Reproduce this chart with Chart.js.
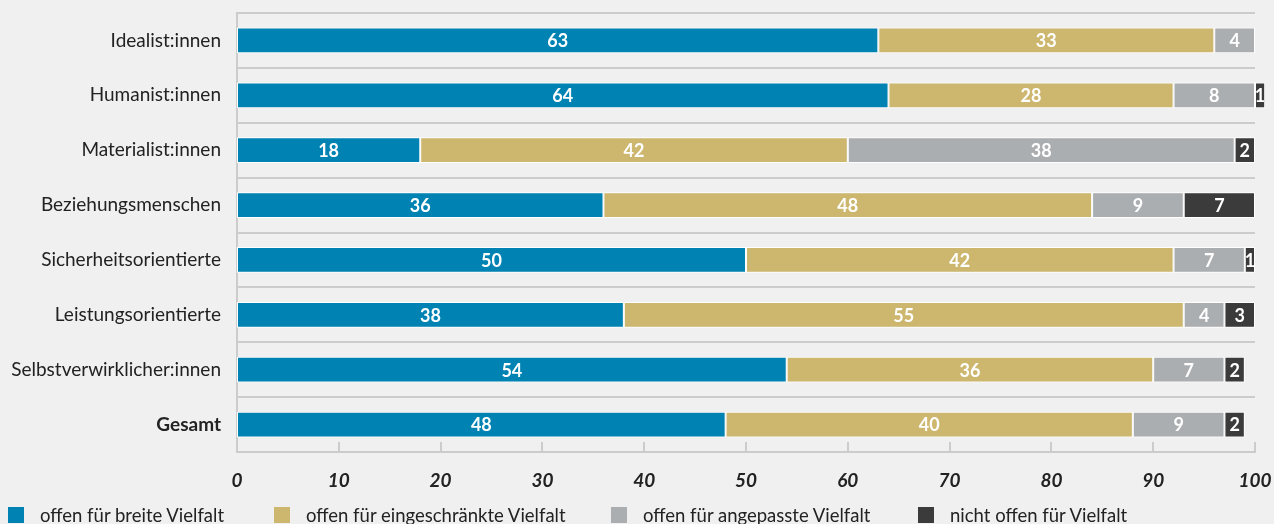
<!DOCTYPE html>
<html>
<head>
<meta charset="utf-8">
<script src="https://cdn.jsdelivr.net/npm/chart.js@4.4.1/dist/chart.umd.min.js"></script>
<style>
  html, body { margin: 0; padding: 0; background: #f0f0f0; }
  #wrap { position: relative; width: 1274px; height: 524px; overflow: hidden; font-family: Lato, sans-serif; }
  #chart { position: absolute; left: 0; top: 0; }
  .lg { position: absolute; top: 504px; display: flex; align-items: center; font-size: 18.5px; color: #222; white-space: nowrap; line-height: 22px; }
  .lg span.box { display: inline-block; width: 16px; height: 16px; margin-right: 16px; }
</style>
</head>
<body>
<div id="wrap">
  <canvas id="chart" width="1274" height="524"></canvas>
  <div id="legend"></div>
</div>
<script>
const categories = ["Idealist:innen", "Humanist:innen", "Materialist:innen", "Beziehungsmenschen",
  "Sicherheitsorientierte", "Leistungsorientierte", "Selbstverwirklicher:innen", "Gesamt"];
const seriesNames = ["offen für breite Vielfalt", "offen für eingeschränkte Vielfalt",
  "offen für angepasste Vielfalt", "nicht offen für Vielfalt"];
const breite       = [63, 64, 18, 36, 50, 38, 54, 48];
const eingeschraenkt = [33, 28, 42, 48, 42, 55, 36, 40];
const angepasst    = [4, 8, 38, 9, 7, 4, 7, 9];
const nichtOffen   = [0, 1, 2, 7, 1, 3, 2, 2];
const xTicks = [0, 10, 20, 30, 40, 50, 60, 70, 80, 90, 100];
const colors = ["#0083b3", "#cdb76e", "#abaeb0", "#3a3b3a"];

const seriesData = [breite, eingeschraenkt, angepasst, nichtOffen];

// HTML legend
const legendLefts = [8, 274, 611, 918];
const lg = document.getElementById('legend');
seriesNames.forEach((n, i) => {
  const d = document.createElement('div');
  d.className = 'lg';
  d.style.left = legendLefts[i] + 'px';
  d.innerHTML = '<span class="box" style="background:' + colors[i] + '"></span><span>' + n + '</span>';
  lg.appendChild(d);
});

const inwardTicks = {
  id: 'inwardTicks',
  beforeDatasetsDraw(chart) {
    const xs = chart.scales.x;
    const b = chart.chartArea.bottom;
    const ctx = chart.ctx;
    ctx.save();
    ctx.strokeStyle = '#cccccc';
    ctx.lineWidth = 2;
    ctx.beginPath();
    xs.ticks.forEach((t, i) => {
      const px = Math.round(xs.getPixelForTick(i));
      ctx.moveTo(px, b);
      ctx.lineTo(px, b - 10);
    });
    ctx.stroke();
    ctx.restore();
  }
};

const valueLabels = {
  id: 'valueLabels',
  afterDatasetsDraw(chart) {
    const ctx = chart.ctx;
    ctx.save();
    ctx.font = 'bold 18px Lato, sans-serif';
    ctx.fillStyle = '#ffffff';
    ctx.textAlign = 'center';
    ctx.textBaseline = 'middle';
    chart.data.datasets.forEach((ds, i) => {
      const meta = chart.getDatasetMeta(i);
      meta.data.forEach((bar, j) => {
        const v = ds.data[j];
        if (!v) return;
        const p = bar.getProps(['x', 'base', 'y'], true);
        ctx.fillText(String(v), (p.x + p.base) / 2, p.y + 1);
      });
    });
    ctx.restore();
  }
};

new Chart(document.getElementById('chart'), {
  type: 'bar',
  data: {
    labels: categories,
    datasets: seriesNames.map((n, i) => ({
      label: n,
      data: seriesData[i],
      backgroundColor: colors[i],
      borderColor: '#ffffff',
      borderWidth: 1,
      borderSkipped: false,
      categoryPercentage: 1,
      barPercentage: 0.47,
      clip: false
    }))
  },
  options: {
    indexAxis: 'y',
    responsive: false,
    animation: false,
    layout: { padding: { top: 13, right: 19, left: 0, bottom: 0 } },
    plugins: { legend: { display: false }, tooltip: { enabled: false } },
    scales: {
      x: {
        stacked: true,
        min: 0,
        max: 100,
        afterBuildTicks(scale) { scale.ticks = xTicks.map(v => ({ value: v })); },
        afterFit(scale) { scale.height = 72; scale.paddingLeft = 0; scale.paddingRight = 0; },
        grid: { display: false },
        border: { display: true, color: '#cccccc', width: 2 },
        ticks: {
          color: '#222222',
          padding: 9,
          font: { family: 'Lato', size: 19, weight: 'bold', style: 'italic' }
        }
      },
      y: {
        stacked: true,
        afterFit(scale) { scale.width = 237; scale.paddingTop = 0; scale.paddingBottom = 0; },
        grid: { color: '#cccccc', lineWidth: 2, drawTicks: false, offset: true },
        border: { display: true, color: '#cccccc', width: 2 },
        ticks: {
          color: '#222222',
          padding: 16,
          font: (ctx) => ({ family: 'Lato', size: 19, weight: ctx.index === 7 ? 'bold' : 'normal' })
        }
      }
    }
  },
  plugins: [inwardTicks, valueLabels]
});
</script>
</body>
</html>
